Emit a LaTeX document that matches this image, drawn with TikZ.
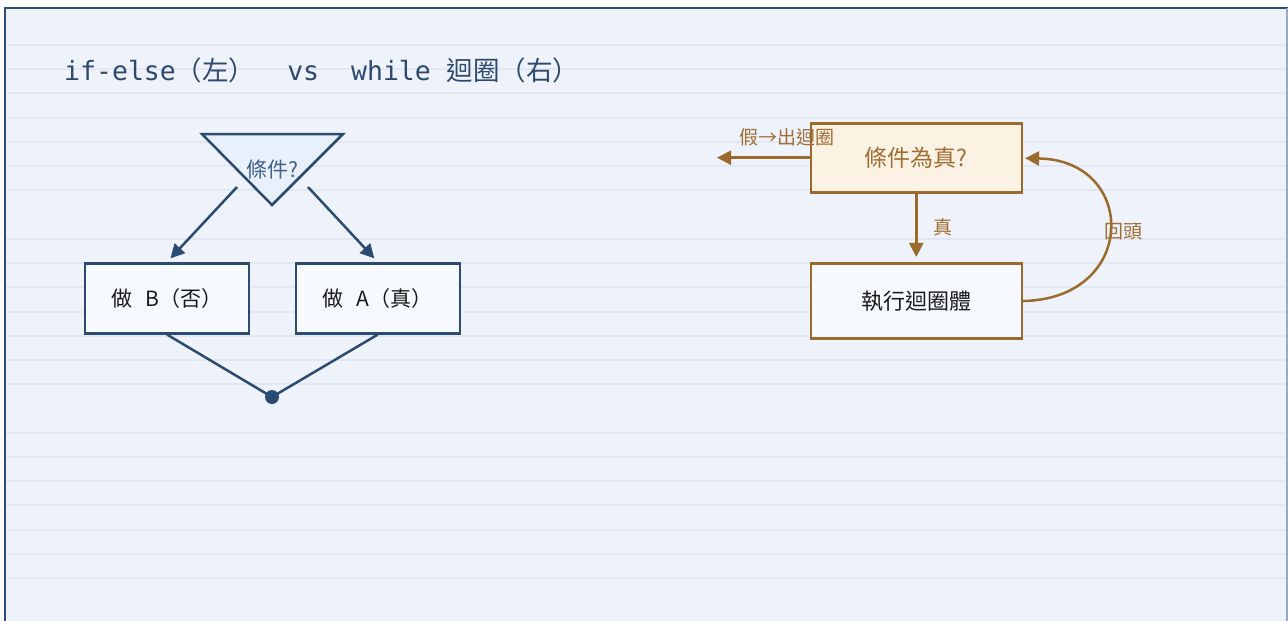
\documentclass[tikz,border=0pt]{standalone}
\usepackage{fontspec}
\setmainfont{DejaVu Sans}
\newfontfamily\cjk{Noto Sans CJK TC}
\newfontfamily\monof{DejaVu Sans Mono}
\usetikzlibrary{arrows.meta}
\definecolor{bgc}{HTML}{EEF2FA}
\definecolor{gridc}{HTML}{E2E7F3}
\definecolor{framec}{HTML}{2E4C78}
\definecolor{framer}{HTML}{9AA9C0}
\definecolor{navy}{HTML}{2C4B72}
\definecolor{titlec}{HTML}{2D4A6E}
\definecolor{tritext}{HTML}{41608A}
\definecolor{trifill}{HTML}{E8F0FB}
\definecolor{boxfill}{HTML}{F6F9FD}
\definecolor{brown}{HTML}{9C6A2C}
\definecolor{browntext}{HTML}{A06E32}
\definecolor{condfill}{HTML}{FCF2E4}
\definecolor{inkc}{HTML}{1A1A1A}
\tikzset{
  gridline/.style={gridc, line width=2pt},
  bluebox/.style={draw=navy, fill=boxfill, line width=2.5pt, minimum width=164pt, minimum height=70pt, inner sep=0pt, text=inkc, font=\cjk\fontsize{21}{24}\selectfont},
  brownbox/.style={draw=brown, line width=2.5pt, minimum width=211pt, inner sep=0pt, font=\cjk\fontsize{22}{25}\selectfont},
  bluearrow/.style={navy, line width=2.5pt, -{Triangle[length=14pt,width=14pt]}},
  blueline/.style={navy, line width=2.5pt},
  brownarrow/.style={brown, line width=2.5pt, -{Triangle[length=14pt,width=14pt]}},
  brownlabel/.style={text=browntext, inner sep=0pt, font=\cjk\fontsize{19}{22}\selectfont},
}
\begin{document}
\begin{tikzpicture}[x=1pt,y=-1pt]
\useasboundingbox (0,0) rectangle (1288,621);
\fill[white] (0,0) rectangle (1288,621);
\fill[bgc] (5,8) rectangle (1288,621);
\foreach \k in {0,1,2,3,4,5,6,8,9,10,11,12,13,14,16,17,18,19,20,21,22} {
  \draw[gridline] (6,{45+24.23*\k}) -- (1286,{45+24.23*\k});
}
\draw[framec, line width=2.5pt] (5,621) -- (5,8) -- (1288,8);
\draw[framer, line width=1.5pt] (1287,8) -- (1287,621);

% title
\node[anchor=base west, text=titlec, inner sep=0pt] (title) at (64,80)
  {\fontsize{26.5}{30}\selectfont\monof if-else\cjk（左）\monof\ \ vs\ \ while\ \cjk 迴圈（右）};

% ---- left: if-else ----
\coordinate (t1) at (202,134);
\coordinate (t2) at (343,134);
\coordinate (t3) at (272,205);
\filldraw[fill=trifill, draw=navy, line width=2.5pt, line join=miter] (t1) -- (t2) -- (t3) -- cycle;
\node[text=tritext, inner sep=0pt, font=\cjk\fontsize{21}{24}\selectfont] (tcond) at (272,170) {條件?};
\coordinate (tl) at (237,187);
\coordinate (tr) at (308,187);

\node[bluebox] (boxB) at (167,298.3) {做\hspace{13pt}B（否）};
\node[bluebox] (boxA) at (377.8,298.3) {做\hspace{13pt}A（真）};

\draw[bluearrow, shorten >=5pt] (tl) -- (boxB.north);
\draw[bluearrow, shorten >=5pt] (tr) -- (boxA.north);

\node[circle, fill=navy, inner sep=0pt, minimum size=14pt] (join) at (272,397) {};
\draw[blueline] (boxB.south) -- (join.center);
\draw[blueline] (boxA.south) -- (join.center);

% ---- right: while ----
\node[brownbox, fill=condfill, minimum height=69pt, text=browntext, font=\cjk\fontsize{23}{26}\selectfont] (cond) at (916.3,158.2) {條件為真?};
\node[brownbox, fill=boxfill, minimum height=74.6pt, text=inkc] (body) at (916.3,301) {執行迴圈體};

\coordinate (exit) at (717,157.7);
\draw[brownarrow] (cond.west |- exit) -- (exit);
\node[brownlabel] (lfalse) at (786.7,137.5) {假→出迴圈};

\draw[brownarrow, shorten >=5.5pt] (cond.south) -- (body.north);
\node[brownlabel] (ltrue) at (943,227) {真};

\draw[brown, line width=2.5pt, -{Triangle[length=14pt,width=14pt]}, shorten >=2pt]
  (body.east) .. controls (1138,299) and (1138,160) .. (cond.east);
\node[brownlabel] (lback) at (1123,231.5) {回頭};
\end{tikzpicture}
\end{document}
